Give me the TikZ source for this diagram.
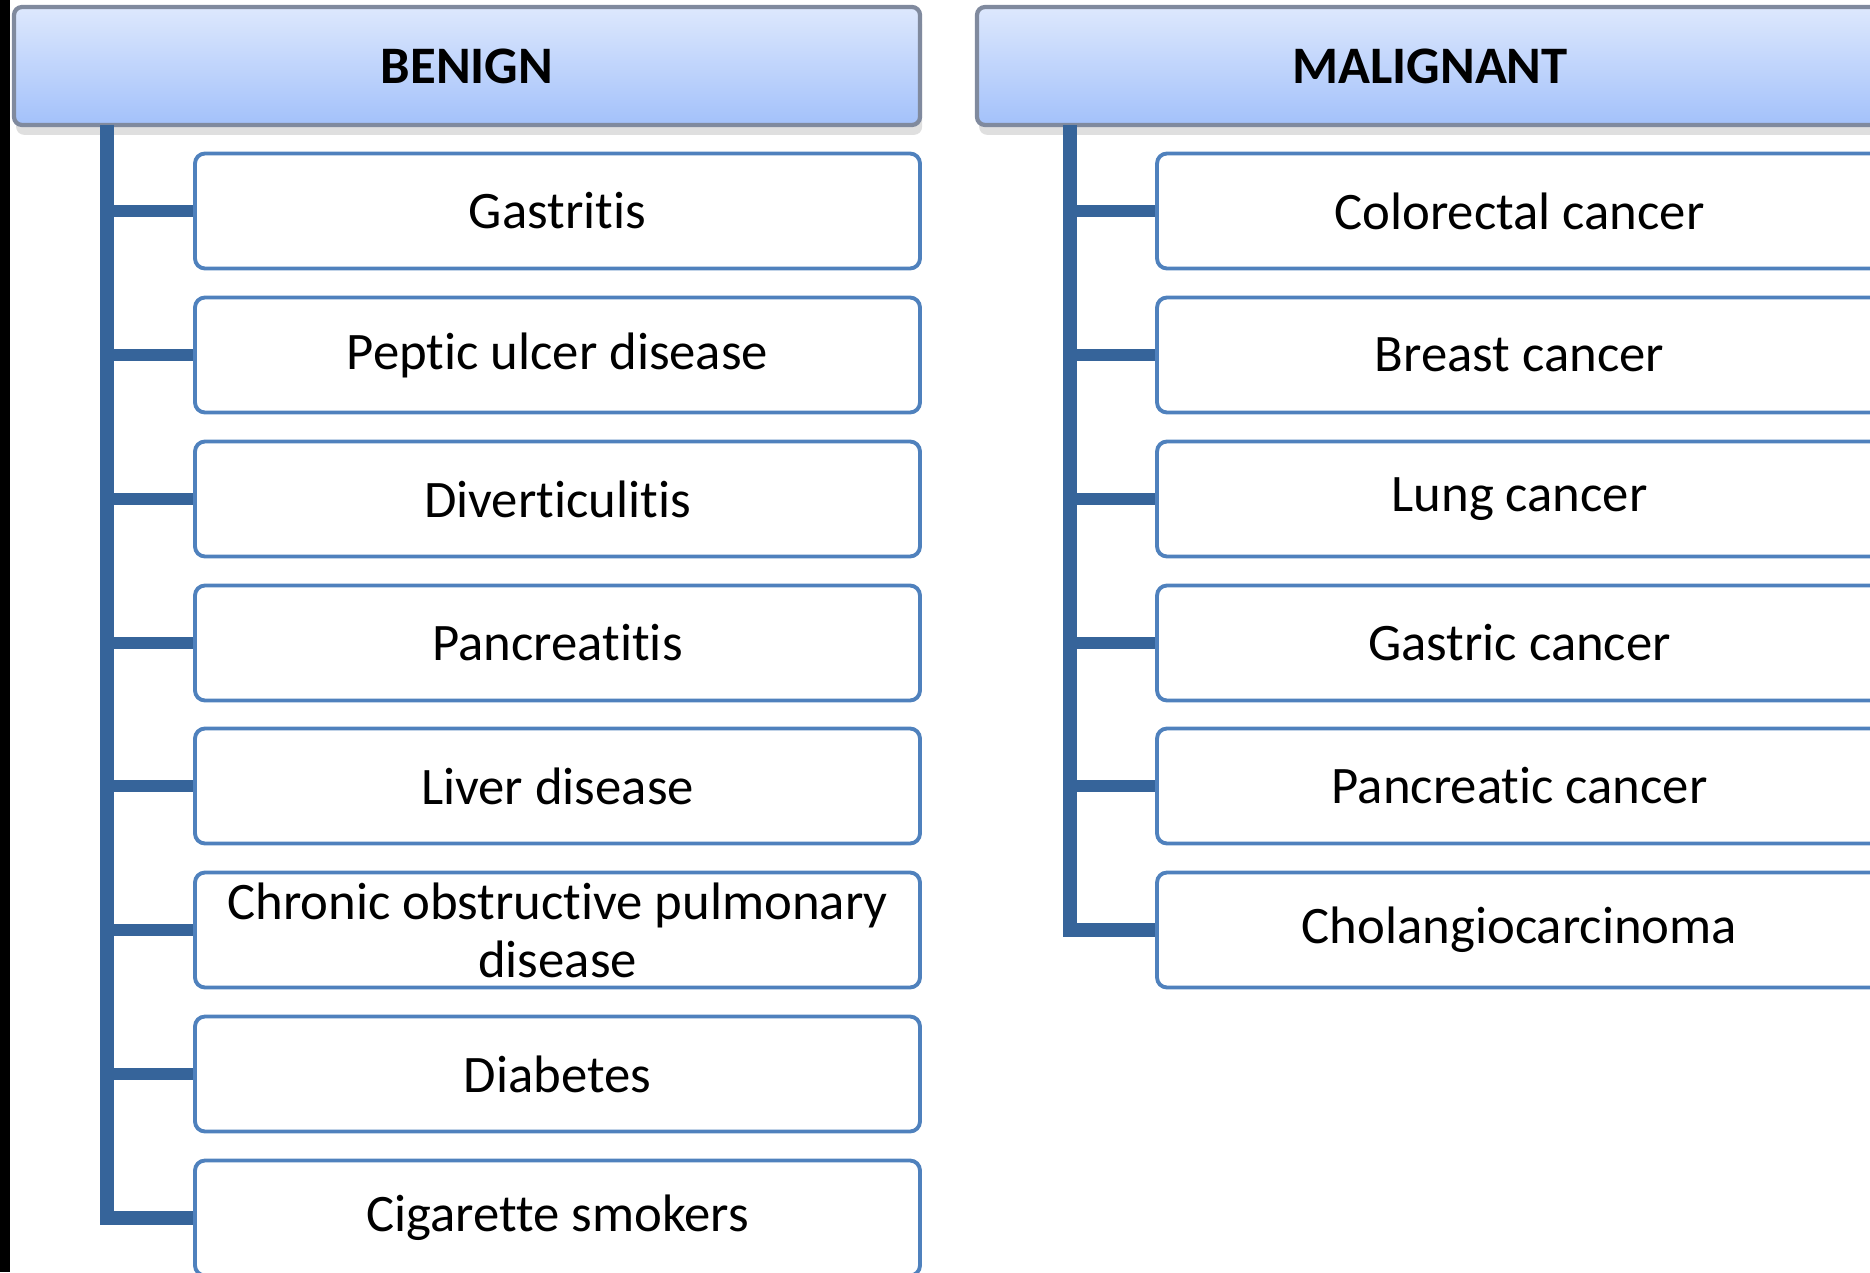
\documentclass[tikz,border=0pt]{standalone}
\usepackage{fontspec}
\setmainfont{Carlito}[Ligatures=NoCommon]
\usepackage{tikz}
\usetikzlibrary{shadows}
\usepackage{xcolor}
\definecolor{boxblue}{RGB}{79,129,189}
\definecolor{trunkblue}{RGB}{54,100,154}
\definecolor{headtop}{RGB}{221,232,253}
\definecolor{headbot}{RGB}{163,193,250}
\definecolor{headline}{RGB}{128,138,158}

\begin{document}
\begin{tikzpicture}[x=0.1mm,y=-0.1mm,line cap=butt,
  header/.style={draw=headline,line width=1.2pt,rounded corners=0.8mm,
    top color=headtop,bottom color=headbot,
    drop shadow={shadow xshift=0.6pt,shadow yshift=-2.8pt,opacity=0.25},
    minimum width=9.06cm,minimum height=1.18cm,inner sep=0pt,
    font=\fontsize{15}{18}\selectfont\bfseries},
  item/.style={draw=boxblue,line width=1.1pt,rounded corners=1mm,fill=white,
    minimum width=7.25cm,minimum height=1.15cm,inner sep=0pt,align=center,
    font=\fontsize{15}{16.5}\selectfont},
  trunk/.style={trunkblue,line width=4pt,line join=miter},
  branch/.style={trunkblue,line width=3.4pt}]
\useasboundingbox (0,0) rectangle (1870,1272);
\clip (0,0) rectangle (1870,1272);
\fill[black] (0,0) rectangle (10,1272);
% headers
\node[header] (benign) at (467,66) {BENIGN};
\node[header] (malig) at (1430,66) {MALIGNANT};
% benign causes
\node[item] (b1) at (557.5,211) {Gastritis};
\node[item] (b2) at (557.5,355) {Peptic ulcer disease};
\node[item] (b3) at (557.5,499) {Diverticulitis};
\node[item] (b4) at (557.5,643) {Pancreatitis};
\node[item] (b5) at (557.5,786) {Liver disease};
\node[item] (b6) at (557.5,930) {Chronic obstructive pulmonary\\disease};
\node[item] (b7) at (557.5,1074) {Diabetes};
\node[item] (b8) at (557.5,1218) {Cigarette smokers};
% malignant causes
\node[item] (m1) at (1519.5,211) {Colorectal cancer};
\node[item] (m2) at (1519.5,355) {Breast cancer};
\node[item] (m3) at (1519.5,499) {Lung cancer};
\node[item] (m4) at (1519.5,643) {Gastric cancer};
\node[item] (m5) at (1519.5,786) {Pancreatic cancer};
\node[item] (m6) at (1519.5,930) {Cholangiocarcinoma};
% trunks
\coordinate (bt) at (107,125);
\coordinate (mt) at (1070,125);
\draw[trunk] (bt) |- (b8.west);
\draw[branch] (bt |- b1.west) -- (b1.west);
\draw[branch] (bt |- b2.west) -- (b2.west);
\draw[branch] (bt |- b3.west) -- (b3.west);
\draw[branch] (bt |- b4.west) -- (b4.west);
\draw[branch] (bt |- b5.west) -- (b5.west);
\draw[branch] (bt |- b6.west) -- (b6.west);
\draw[branch] (bt |- b7.west) -- (b7.west);
\draw[trunk] (mt) |- (m6.west);
\draw[branch] (mt |- m1.west) -- (m1.west);
\draw[branch] (mt |- m2.west) -- (m2.west);
\draw[branch] (mt |- m3.west) -- (m3.west);
\draw[branch] (mt |- m4.west) -- (m4.west);
\draw[branch] (mt |- m5.west) -- (m5.west);
\end{tikzpicture}
\end{document}
